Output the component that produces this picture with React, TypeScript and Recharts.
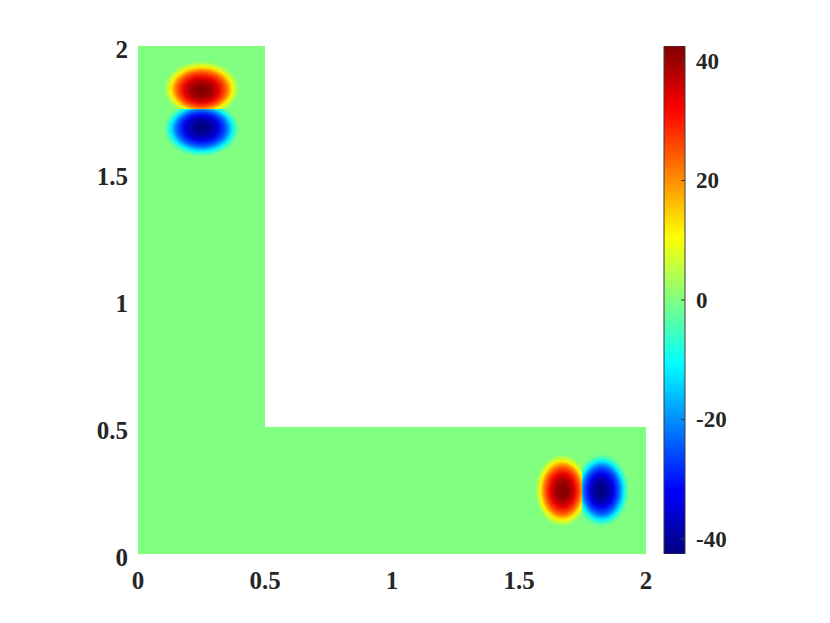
import { ComposedChart, BarChart, Bar, XAxis, YAxis, ReferenceArea, Scatter } from "recharts";

const AXIS_TICKS = [0, 0.5, 1, 1.5, 2];
const CBAR_TICKS = [-40, -20, 0, 20, 40];
const CLIM = [-42.5, 42.5];

// L-shaped domain as two rectangles
const REGION_X1 = [0, 0.5];
const REGION_X2 = [0.5, 2];
const REGION_Y1 = [0, 0];
const REGION_Y2 = [2, 0.5];

// the four lobes (two dipoles): peak value, peak position, extent
const LOBE_VALUE = [42.4, -42.4, 42.2, -42.2];
const LOBE_PEAK_X = [0.25, 0.25, 1.675, 1.821];
const LOBE_PEAK_Y = [1.822, 1.682, 0.25, 0.25];
const LOBE_X1 = [0.1, 0.1, 1.562, 1.748];
const LOBE_X2 = [0.4, 0.4, 1.748, 1.934];
const LOBE_Y1 = [1.752, 1.563, 0.106, 0.106];
const LOBE_Y2 = [1.941, 1.752, 0.394, 0.394];

// how the colour fades from the peak to the lobe edge (offset, share of peak)
const FALLOFF = [
  [0, 1],
  [0.15, 0.98],
  [0.3, 0.92],
  [0.45, 0.8],
  [0.6, 0.62],
  [0.7, 0.47],
  [0.8, 0.28],
  [0.9, 0.11],
  [1, 0],
];
const JET_OFFSETS = [0, 0.125, 0.375, 0.5, 0.625, 0.875, 1];
const NODAL_EXT = 0.15; // ellipse runs a little past the nodal line, then is clipped

const TICK_FONT = "'Liberation Serif', 'Times New Roman', serif";
const INK = "#262626";

function jet(v: number) {
  const t = (v - CLIM[0]) / (CLIM[1] - CLIM[0]);
  const c = (x: number) => Math.round(255 * Math.max(0, Math.min(1, x)));
  const r = c(Math.min(4 * t - 1.5, -4 * t + 4.5));
  const g = c(Math.min(4 * t - 0.5, -4 * t + 3.5));
  const b = c(Math.min(4 * t + 0.5, -4 * t + 2.5));
  return `rgb(${r},${g},${b})`;
}

const lobes = LOBE_VALUE.map((v, i) => ({
  v,
  x: LOBE_PEAK_X[i],
  y: LOBE_PEAK_Y[i],
  x1: LOBE_X1[i],
  x2: LOBE_X2[i],
  y1: LOBE_Y1[i],
  y2: LOBE_Y2[i],
}));

const cbarData = [{ name: "cbar", range: CLIM }];

function renderLobe(p: any, i: number) {
  const l = lobes[i];
  const x = Math.min(p.x, p.x + p.width);
  const y = Math.min(p.y, p.y + p.height);
  const w = Math.abs(p.width);
  const h = Math.abs(p.height);
  const fx = (l.x - l.x1) / (l.x2 - l.x1);
  const fy = (l.y2 - l.y) / (l.y2 - l.y1);
  const px = x + fx * w;
  const py = y + fy * h;
  let ex = x;
  let ey = y;
  let ew = w;
  let eh = h;
  if (Math.abs(fy - 0.5) > Math.abs(fx - 0.5)) {
    const d = NODAL_EXT * h;
    eh = h + d;
    if (fy < 0.5) ey = y - d;
  } else {
    const d = NODAL_EXT * w;
    ew = w + d;
    if (fx < 0.5) ex = x - d;
  }
  return (
    <g>
      <defs>
        <clipPath id={`lobeclip${i}`}>
          <rect x={x} y={y} width={w} height={h} />
        </clipPath>
        <radialGradient
          id={`lobe${i}`}
          cx="0.5"
          cy="0.5"
          r="0.5"
          fx={(px - ex) / ew}
          fy={(py - ey) / eh}
        >
          {FALLOFF.map(([off, k]) => (
            <stop key={off} offset={off} stopColor={jet(l.v * k)} />
          ))}
        </radialGradient>
      </defs>
      <ellipse
        cx={ex + ew / 2}
        cy={ey + eh / 2}
        rx={ew / 2}
        ry={eh / 2}
        fill={`url(#lobe${i})`}
        clipPath={`url(#lobeclip${i})`}
      />
    </g>
  );
}

const XTick = (props: any) => (
  <text
    x={props.x}
    y={props.y + 35}
    textAnchor="middle"
    fontFamily={TICK_FONT}
    fontWeight="bold"
    fontSize={25}
    fill={INK}
  >
    {String(props.payload.value)}
  </text>
);

const YTick = (props: any) => (
  <text
    x={props.x - 10}
    y={props.y + 11.5}
    textAnchor="end"
    fontFamily={TICK_FONT}
    fontWeight="bold"
    fontSize={25}
    fill={INK}
  >
    {String(props.payload.value)}
  </text>
);

const CbarTick = (props: any) => (
  <g>
    <line x1={props.x - 4} x2={props.x} y1={props.y} y2={props.y} stroke="#3c3c3c" />
    <text
      x={props.x + 11}
      y={props.y + 7.8}
      textAnchor="start"
      fontFamily={TICK_FONT}
      fontWeight="bold"
      fontSize={23}
      fill={INK}
    >
      {String(props.payload.value)}
    </text>
  </g>
);

export default function App() {
  return (
    <div style={{ position: "absolute", left: 0, top: 0, width: 830, height: 623, background: "#fff" }}>
      <div style={{ position: "absolute", left: 0, top: 0 }}>
        <ComposedChart width={830} height={623} margin={{ top: 46, right: 184, bottom: 29, left: 78 }}>
          <XAxis
            type="number"
            dataKey="x"
            domain={[0, 2]}
            ticks={AXIS_TICKS}
            interval={0}
            allowDataOverflow
            axisLine={false}
            tickLine={false}
            tickSize={0}
            tickMargin={0}
            height={40}
            tick={XTick}
          />
          <YAxis
            type="number"
            dataKey="y"
            domain={[0, 2]}
            ticks={AXIS_TICKS}
            interval={0}
            allowDataOverflow
            axisLine={false}
            tickLine={false}
            tickSize={0}
            tickMargin={0}
            width={60}
            tick={YTick}
          />
          {REGION_X1.map((x1, i) => (
            <ReferenceArea
              key={`r${i}`}
              x1={x1}
              x2={REGION_X2[i]}
              y1={REGION_Y1[i]}
              y2={REGION_Y2[i]}
              fill={jet(0)}
              fillOpacity={1}
              stroke="none"
            />
          ))}
          {lobes.map((l, i) => (
            <ReferenceArea
              key={`l${i}`}
              x1={l.x1}
              x2={l.x2}
              y1={l.y1}
              y2={l.y2}
              shape={(p: any) => renderLobe(p, i)}
            />
          ))}
          <Scatter data={lobes} dataKey="y" isAnimationActive={false} shape={() => <g />} />
        </ComposedChart>
      </div>
      <div style={{ position: "absolute", left: 0, top: 0 }}>
        <BarChart
          width={830}
          height={623}
          data={cbarData}
          barCategoryGap={0}
          margin={{ top: 46, right: 105, bottom: 69, left: 664 }}
        >
          <defs>
            <linearGradient id="jetbar" x1="0" y1="0" x2="0" y2="1">
              {JET_OFFSETS.map((off) => (
                <stop key={off} offset={off} stopColor={jet(CLIM[1] - off * (CLIM[1] - CLIM[0]))} />
              ))}
            </linearGradient>
          </defs>
          <XAxis hide dataKey="name" />
          <YAxis
            orientation="right"
            type="number"
            domain={CLIM}
            ticks={CBAR_TICKS}
            interval={0}
            allowDataOverflow
            axisLine={false}
            tickLine={false}
            tickSize={0}
            tickMargin={0}
            width={40}
            tick={CbarTick}
          />
          <Bar
            dataKey="range"
            fill="url(#jetbar)"
            stroke="#3c3c3c"
            strokeWidth={1}
            isAnimationActive={false}
          />
        </BarChart>
      </div>
    </div>
  );
}
